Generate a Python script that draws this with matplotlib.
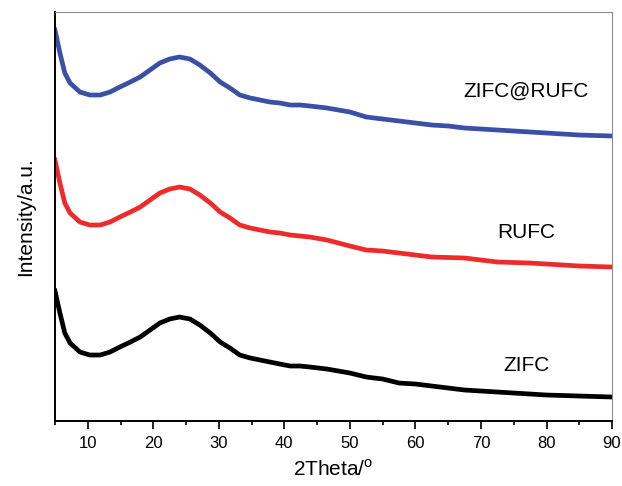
import numpy as np
import matplotlib.pyplot as plt

plt.rcParams['font.family'] = ['Liberation Sans', 'DejaVu Sans']

# 2theta positions
two_theta = [5, 5.75, 6.5, 7.3, 8.8, 10.3, 11.9, 13.4, 14.9, 16.5, 18, 19.5,
             21, 22.5, 24, 25.6, 27.1, 28.7, 30.2, 31.7, 33.2, 34.8, 36.3,
             37.8, 39.3, 40.9, 42.4, 43.9, 46.5, 50, 52.5, 55, 57.5, 60, 62.5,
             65, 67.5, 70, 72.5, 75, 77.5, 80, 82.5, 85, 87.5, 90]

# stacked intensities (arbitrary units, offset as in the figure)
zifc_rufc = [391, 368, 348, 338, 329, 326, 326, 329, 334, 339, 344, 351, 358,
             362, 364, 362, 356, 348, 339, 333, 326, 323, 321, 319, 318, 316,
             316, 315, 313, 309, 304, 302, 300, 298, 296, 295, 293, 292, 291,
             290, 289, 288, 287, 286, 285.5, 285]
rufc = [261, 238, 218, 208, 199, 196, 196, 199, 204, 209, 214, 221, 228, 232,
        234, 232, 226, 218, 209, 203, 196, 193, 191, 189, 188, 186, 185, 184,
        181, 175, 171, 170, 168, 166, 164, 163.5, 163, 161, 159, 158.5, 158,
        157, 156, 155, 154.5, 154]
zifc = [130, 108, 88, 78, 69, 66, 66, 69, 74, 79, 84, 91, 98, 102, 104, 102,
        96, 88, 79, 73, 66, 63, 61, 59, 57, 55, 55, 54, 52, 48, 44, 42, 38, 37,
        35, 33, 31, 30, 29, 28, 27, 26, 25.5, 25, 24.5, 24]

labels = ['ZIFC@RUFC', 'RUFC', 'ZIFC']
label_y = [330, 189, 56]

fig = plt.figure(figsize=(6.22, 4.86), dpi=100)
ax = fig.add_axes([0.0884, 0.1337, 0.8956, 0.8416])

for ys, c in zip([zifc_rufc, rufc, zifc], ['#3a4fa6', '#ee2b2b', 'black']):
    ax.plot(two_theta, ys, color=c, lw=3.4, solid_joinstyle='round')

for lab, yy in zip(labels, label_y):
    ax.text(76.9, yy, lab, fontsize=15, ha='center', va='center')

ax.set_xlim(5, 90)
ax.set_ylim(0, 409)
ax.set_xticks(range(10, 91, 10))
ax.set_xticks(range(5, 91, 5), minor=True)
ax.set_yticks([])
ax.tick_params(axis='x', which='major', direction='out', length=5.5,
               width=1.2, labelsize=12, pad=5)
ax.tick_params(axis='x', which='minor', direction='out', length=3, width=1.2)
for s in ['top', 'right']:
    ax.spines[s].set_color('#8c8c8c')
for s in ['left', 'bottom']:
    ax.spines[s].set_linewidth(1.4)

ax.set_xlabel('2Theta/$^{\\mathregular{o}}$', fontsize=15, labelpad=6)
ax.set_ylabel('Intensity/a.u.', fontsize=15, labelpad=14)

fig.savefig('out.png')
